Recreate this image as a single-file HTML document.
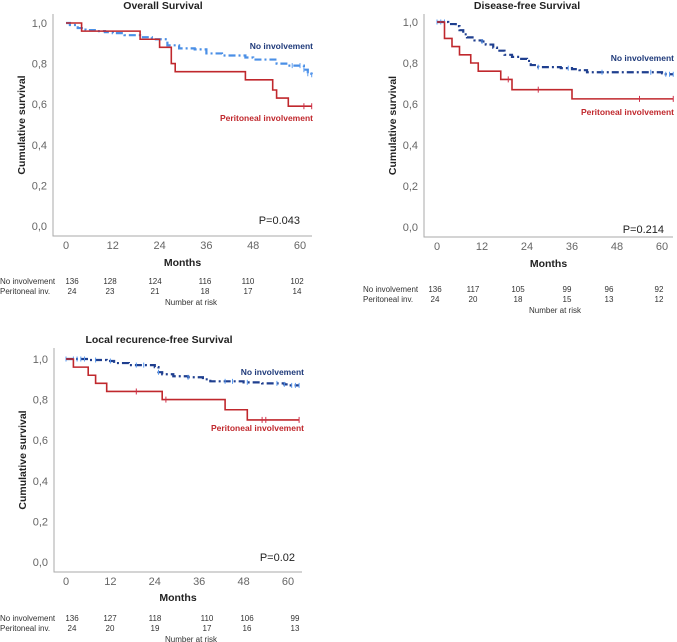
<!DOCTYPE html>
<html><head><meta charset="utf-8">
<style>
body{margin:0;background:#fff;width:677px;height:642px;overflow:hidden;font-family:"Liberation Sans",sans-serif}
svg{display:block}
</style></head>
<body>
<svg id="chart" width="677" height="642" viewBox="0 0 677 642" xmlns="http://www.w3.org/2000/svg"></svg>
<script>
// ---- Data ----
const yTicks = [0, 0.2, 0.4, 0.6, 0.8, 1.0];
const yTickLabels = ["0,0","0,2","0,4","0,6","0,8","1,0"];
const xTicks = [0, 12, 24, 36, 48, 60];
const riskLabels = ["No involvement", "Peritoneal inv."];

const osNoT = [0,1,3,5,8,10,12,15,19,22,26,29,33,36,40,46,48,54,57,61,62,63];
const osNoS = [1.0,0.99,0.975,0.965,0.96,0.955,0.95,0.94,0.93,0.92,0.89,0.875,0.87,0.85,0.84,0.83,0.82,0.80,0.79,0.77,0.75,0.745];
const osPerT = [0,4,19,24,27,28,46,53,54,57,63];
const osPerS = [1.0,0.96,0.92,0.88,0.80,0.76,0.72,0.67,0.63,0.59,0.59];
const osPerCens = [61,63];
const osRiskNo = [136,128,124,116,110,102];
const osRiskPer = [24,23,21,18,17,14];

const dfsNoT = [0,3,5,6,7,8,10,12,13,15,16,18,20,22,24,25,27,33,36,38,40,60,61,63];
const dfsNoS = [1.0,0.99,0.98,0.96,0.94,0.925,0.91,0.905,0.89,0.875,0.86,0.84,0.83,0.82,0.81,0.79,0.78,0.775,0.77,0.765,0.755,0.75,0.745,0.745];
const dfsPerT = [0,2,4,6,9,11,17,20,36,63];
const dfsPerS = [1.0,0.92,0.88,0.84,0.80,0.76,0.72,0.67,0.625,0.625];
const dfsPerCens = [19,27,54,63];
const dfsRiskNo = [136,117,105,99,96,92];
const dfsRiskPer = [24,20,18,15,13,12];

const lrNoT = [0,6,11,13,17,24,25,26,29,33,37,39,48,53,59,60,63];
const lrNoS = [1.0,0.995,0.99,0.98,0.97,0.96,0.935,0.925,0.915,0.91,0.90,0.89,0.885,0.88,0.875,0.87,0.87];
const lrPerT = [0,2,6,8,11,26,43,49,63];
const lrPerS = [1.0,0.96,0.92,0.88,0.84,0.80,0.75,0.70,0.70];
const lrPerCens = [19,27,53,54,63];
const lrRiskNo = [136,127,118,110,106,99];
const lrRiskPer = [24,20,19,17,16,13];

const NS = "http://www.w3.org/2000/svg";
const svg = document.getElementById('chart');
function mk(tag, attrs, parent, text){
  const e = document.createElementNS(NS, tag);
  for (const k in attrs) e.setAttribute(k, attrs[k]);
  if (text !== undefined) e.textContent = text;
  (parent||svg).appendChild(e);
  return e;
}
function stepPath(T,S,fx,fy){
  let d = "M"+fx(T[0])+","+fy(S[0]);
  for(let i=1;i<T.length;i++){ d += " H"+fx(T[i])+" V"+fy(S[i]); }
  return d;
}
function survAt(T,S,t){ let v=S[0]; for(let i=0;i<T.length;i++){ if(T[i]<=t) v=S[i]; } return v; }

function panel(p){
  const g = mk('g',{});  
  const fx = t => p.x0 + (t/60)*(p.x60-p.x0);
  const fy = s => p.y0 - s*(p.y0-p.y1);
  const t = mk('text',{x:p.titleX,y:p.titleY,'text-anchor':'middle','font-size':'10.5','font-weight':'bold',fill:'#222'},g,p.title);
   
  const fr = mk('path',{d:`M${p.left},${p.top} V${p.bottom} H${p.right}`,fill:'none',stroke:'#aaa','stroke-width':'1'},g);
   
  yTicks.forEach((v,i)=>{
    const e = mk('text',{x:p.left-6,y:fy(v)+4,'text-anchor':'end','font-size':'11',fill:'#666'},g,yTickLabels[i]);
     
  });
  xTicks.forEach(v=>{
    const e = mk('text',{x:fx(v),y:p.bottom+13,'text-anchor':'middle','font-size':'11',fill:'#666'},g,String(v));
     
  });
  const yl = mk('text',{x:0,y:0,transform:`translate(${p.left-28},${(p.top+p.bottom)/2}) rotate(-90)`,'text-anchor':'middle','font-size':'10.5','font-weight':'bold',fill:'#222'},g,'Cumulative survival');
   
  const xl = mk('text',{x:(p.left+p.right)/2,y:p.monthsY,'text-anchor':'middle','font-size':'10.5','font-weight':'bold',fill:'#222'},g,'Months');
   
  const nd = stepPath(p.noT,p.noS,fx,fy);
  const n1 = mk('path',{d:nd,fill:'none',stroke:p.noColor,'stroke-width':'2.2','stroke-dasharray':'7,3,2,3'},g);
   
  p.noCens.forEach(c=>{
    const y=fy(survAt(p.noT,p.noS,c));
    const m = mk('path',{d:`M${fx(c)},${y-2.5} V${y+2.5}`,stroke:'#5b9bf0','stroke-width':'1'},g);
     
  });
  const pd = stepPath(p.perT,p.perS,fx,fy);
  const r = mk('path',{d:pd,fill:'none',stroke:'#c0282d','stroke-width':'1.6'},g);
   
  p.perCens.forEach(c=>{
    const y=fy(survAt(p.perT,p.perS,c));
    const m = mk('path',{d:`M${fx(c)},${y-3} V${y+3}`,stroke:'#d0304a','stroke-width':'1'},g);
     
  });
  const l1 = mk('text',{x:p.labelX,y:p.noLabelY,'text-anchor':'end','font-size':'8.5','font-weight':'bold',fill:'#1f3a7a'},g,'No involvement');
   
  const l2 = mk('text',{x:p.labelX,y:p.perLabelY,'text-anchor':'end','font-size':'8.5','font-weight':'bold',fill:'#c0282d'},g,'Peritoneal involvement');
   
  const pv = mk('text',{x:p.pX,y:p.pY,'text-anchor':'end','font-size':'11',fill:'#222'},g,p.pval);
   
  riskLabels.forEach((lab,i)=>{
    const e = mk('text',{x:p.riskLabelX,y:p.riskY+i*10,'font-size':'8',fill:'#333'},g,lab);
     
  });
  [p.riskNo,p.riskPer].forEach((row,i)=>{
    row.forEach((v,j)=>{
      const e = mk('text',{x:p.riskCols[j],y:p.riskY+i*10,'text-anchor':'middle','font-size':'8',fill:'#333'},g,String(v));
       
    });
  });
  const nr = mk('text',{x:p.narX,y:p.riskY+21,'text-anchor':'middle','font-size':'8',fill:'#333'},g,'Number at risk');
   
}

panel({name:'overall-survival-panel',title:'Overall Survival',titleX:163,titleY:9,
  left:53,top:14,right:312,bottom:236,x0:66,x60:300,y0:226,y1:23,monthsY:266,
  noT:osNoT,noS:osNoS,noColor:'#4a8fe6',noCens:[58,60,61,62,63],
  perT:osPerT,perS:osPerS,perCens:osPerCens,
  labelX:313,noLabelY:49,perLabelY:121,pX:300,pY:224,pval:'P=0.043',
  riskLabelX:0,riskY:284,riskCols:[72,110,155,205,248,297],riskNo:osRiskNo,riskPer:osRiskPer,narX:191});

panel({name:'disease-free-survival-panel',title:'Disease-free Survival',titleX:527,titleY:9,
  left:424,top:14,right:673,bottom:237,x0:437,x60:662,y0:227,y1:22,monthsY:267,
  noT:dfsNoT,noS:dfsNoS,noColor:'#1f3f8f',noCens:[0,1,2,12,27,35,44,57,61,62,63],
  perT:dfsPerT,perS:dfsPerS,perCens:dfsPerCens,
  labelX:674,noLabelY:61,perLabelY:115,pX:664,pY:233,pval:'P=0.214',
  riskLabelX:363,riskY:292,riskCols:[435,473,518,567,609,659],riskNo:dfsRiskNo,riskPer:dfsRiskPer,narX:555});

panel({name:'local-recurrence-free-survival-panel',title:'Local recurence-free Survival',titleX:159,titleY:343,
  left:54,top:348,right:302,bottom:572,x0:66,x60:288,y0:562,y1:359,monthsY:601,
  noT:lrNoT,noS:lrNoS,noColor:'#1f3f8f',noCens:[0,2,3,4,5,8,12,19,21,25,33,43,45,49,57,59,61,62,63],
  perT:lrPerT,perS:lrPerS,perCens:lrPerCens,
  labelX:304,noLabelY:375,perLabelY:431,pX:295,pY:561,pval:'P=0.02',
  riskLabelX:0,riskY:621,riskCols:[72,110,155,207,247,295],riskNo:lrRiskNo,riskPer:lrRiskPer,narX:191});
</script>
</body></html>
